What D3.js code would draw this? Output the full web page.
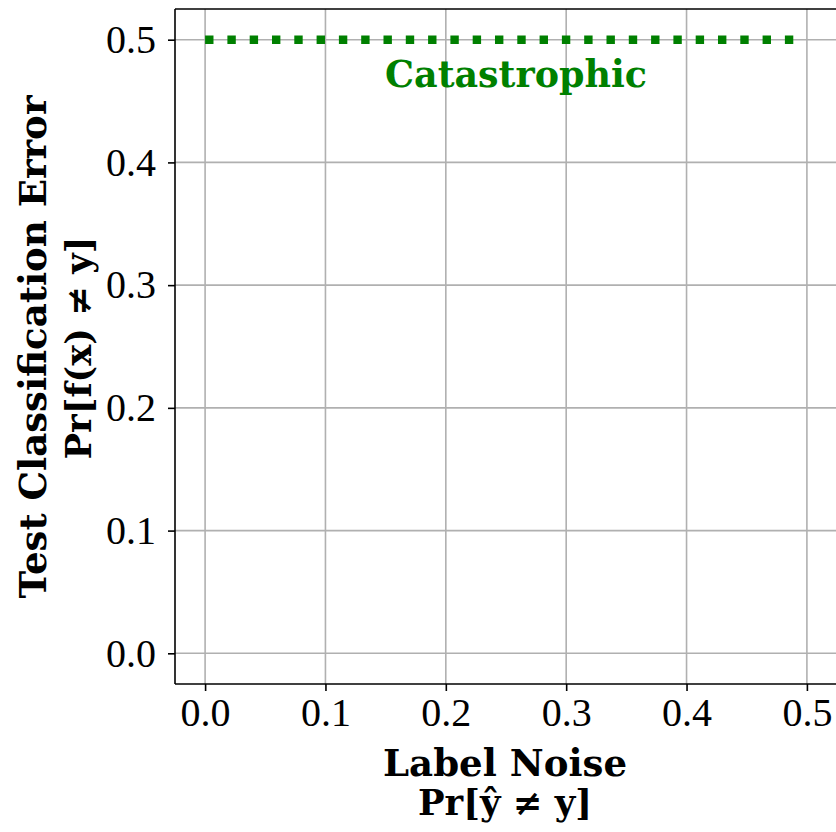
<!DOCTYPE html>
<html><head><meta charset="utf-8">
<script src="https://cdn.jsdelivr.net/npm/d3@7"></script>
<style>body{margin:0;background:#fff}svg{display:block}</style>
</head><body><svg id="c" width="836" height="832"></svg>
<script>
const labelNoise = [0.0, 0.1, 0.2, 0.3, 0.4, 0.49];
const testError = [0.5, 0.5, 0.5, 0.5, 0.5, 0.5];
const xTicks = [0.0, 0.1, 0.2, 0.3, 0.4, 0.5];
const yTicks = [0.0, 0.1, 0.2, 0.3, 0.4, 0.5];
const seriesLabel = "Catastrophic";

const svg = d3.select("#c");
const L = 175, R = 837, T = 9, B = 684;
const x = d3.scaleLinear().domain([-0.025, 0.525]).range([L, R]);
const y = d3.scaleLinear().domain([-0.025, 0.525]).range([B, T]);
const font = "'Liberation Serif', 'DejaVu Serif', serif";
const bfont = "'DejaVu Serif', 'Liberation Serif', serif";

function fit(sel, w) {
  const l = sel.node().getComputedTextLength();
  const fs = parseFloat(sel.attr("font-size"));
  sel.attr("font-size", fs * w / l);
  return sel;
}

// grid
svg.append("g").selectAll("line").data(xTicks).join("line")
  .attr("x1", d => x(d)).attr("x2", d => x(d)).attr("y1", T).attr("y2", B)
  .attr("stroke", "#b0b0b0").attr("stroke-width", 1.6);
svg.append("g").selectAll("line").data(yTicks).join("line")
  .attr("y1", d => y(d)).attr("y2", d => y(d)).attr("x1", L).attr("x2", R)
  .attr("stroke", "#b0b0b0").attr("stroke-width", 1.6);

// line
svg.append("path").datum(labelNoise.map((d, i) => [d, testError[i]]))
  .attr("d", d3.line().x(d => x(d[0])).y(d => y(d[1])))
  .attr("fill", "none").attr("stroke", "#008000").attr("stroke-width", 8.4)
  .attr("stroke-dasharray", "8.4,13.9");

fit(svg.append("text").attr("x", 516).attr("y", 87).attr("text-anchor", "middle")
  .attr("font-family", bfont).attr("font-weight", "bold").attr("font-size", 30)
  .attr("fill", "#008000").text(seriesLabel), 262);

// axes
const xAxis = d3.axisBottom(x).tickValues(xTicks).tickFormat(d3.format(".1f")).tickSize(7).tickPadding(7);
const yAxis = d3.axisLeft(y).tickValues(yTicks).tickFormat(d3.format(".1f")).tickSize(7).tickPadding(12);
const gx = svg.append("g").attr("transform", `translate(0,${B})`).call(xAxis);
const gy = svg.append("g").attr("transform", `translate(${L},0)`).call(yAxis);
[gx, gy].forEach(g => {
  g.selectAll("line").attr("stroke", "#000").attr("stroke-width", 1.6);
  g.select(".domain").remove();
  g.selectAll("text").attr("font-family", font).attr("font-size", 40).attr("fill", "#000");
});
// spines
svg.append("line").attr("x1", L).attr("x2", L).attr("y1", T).attr("y2", B).attr("stroke", "#000").attr("stroke-width", 1.6);
svg.append("line").attr("x1", L).attr("x2", R).attr("y1", B).attr("y2", B).attr("stroke", "#000").attr("stroke-width", 1.6);
svg.append("line").attr("x1", L).attr("x2", R).attr("y1", T).attr("y2", T).attr("stroke", "#000").attr("stroke-width", 1.6);

// axis labels
const lab = (tr, txt, w) => fit(svg.append("text").attr("transform", tr).attr("text-anchor", "middle")
  .attr("font-family", bfont).attr("font-weight", "bold").attr("font-size", 30).text(txt), w);
lab("translate(505,776)", "Label Noise", 244);
lab("translate(505,815)", "Pr[ŷ ≠ y]", 174);
lab("translate(46,347) rotate(-90)", "Test Classification Error", 503);
lab("translate(91,348) rotate(-90)", "Pr[f(x) ≠ y]", 223);
</script></body></html>
